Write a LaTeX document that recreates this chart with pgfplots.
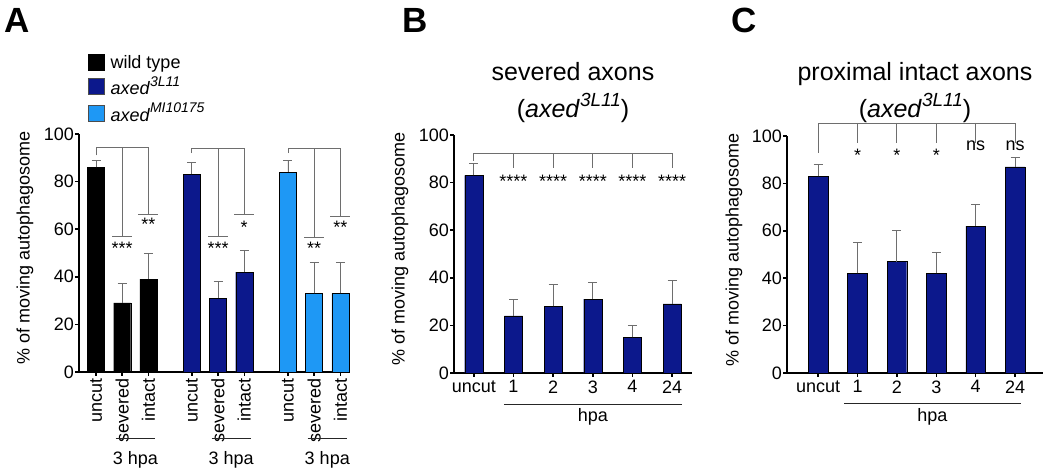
\documentclass[border=0pt]{standalone}
\usepackage{pgfplots}
\pgfplotsset{compat=1.18}
\usepackage{fontspec}
\setmainfont{Liberation Sans}
\definecolor{dblue}{RGB}{12,24,140}
\definecolor{lblue}{RGB}{30,152,245}
\definecolor{brkc}{RGB}{110,110,110}
\newcommand\supx[3]{\raisebox{#1}{\fontsize{#2}{#2}\selectfont\itshape #3}}
\pgfplotsset{
 panel/.style={
   scale only axis, clip=false,
   axis x line*=bottom, axis y line*=left,
   axis line style={line width=1.5pt},
   ymin=0, ymax=100, ytick={0,20,...,100},
   tick style={line width=1.5pt, black},
   major tick length=4pt, tick align=outside,
   /pgf/number format/assume math mode=true,
   tick label style={font=\fontsize{18}{20}\selectfont},
   yticklabel style={inner sep=1pt},
   ylabel={\% of moving autophagosome},
 },
 ylab/.style={every axis y label/.style={at={(axis description cs:#1,0.52)}, rotate=90, anchor=center, font=\fontsize{18}{20}\selectfont}},
 bars/.style={ybar, bar shift=0pt, draw=black, line width=0.4pt,
   error bars/y dir=plus, error bars/y explicit,
   error bars/error bar style={brkc, line width=0.9pt},
   error bars/error mark options={rotate=90, mark size=4.5pt, brkc, line width=0.9pt}},
 brk/.style={brkc, line width=0.9pt, sharp plot, no marks, forget plot},
}
\begin{document}
\begin{tikzpicture}
\useasboundingbox (0,0) rectangle (1050pt,474pt);
% ---------------- Panel A
\begin{axis}[panel, at={(79pt,102pt)}, anchor=south west, width=270pt, height=238pt,
  xmin=-0.65, xmax=9.66,
  xtick={0,1,2,3.66,4.66,5.66,7.33,8.33,9.33},
  xticklabels={uncut,severed,intact,uncut,severed,intact,uncut,severed,intact},
  xticklabel style={rotate=90, anchor=east, inner sep=2pt},
  ylab=-0.2,
  legend style={draw=none, fill=none, at={(0.033,1.34)}, anchor=north west,
     font=\fontsize{18}{20}\selectfont, row sep=3pt, column sep=4pt, inner sep=0pt,
     nodes={inner sep=2pt}},
  legend cell align=left,
]
\addlegendimage{legend image code/.code={\draw[fill=black, draw=black] (0pt,-8pt) rectangle (16pt,8pt);}}
\addlegendentry{wild type}
\addlegendimage{legend image code/.code={\draw[fill=dblue, draw=black!70] (0pt,-8pt) rectangle (16pt,8pt);}}
\addlegendentry{\textit{axed}\supx{0.45em}{14}{3L11}}
\addlegendimage{legend image code/.code={\draw[fill=lblue, draw=black!70] (0pt,-8pt) rectangle (16pt,8pt);}}
\addlegendentry{\textit{axed}\supx{0.45em}{14}{MI10175}}
\addplot[bars, fill=black, bar width=0.65, forget plot] coordinates {(0,86) +- (0,3) (1,29) +- (0,8) (2,39) +- (0,11)};
\addplot[bars, fill=dblue, bar width=0.65, forget plot] coordinates {(3.66,83) +- (0,5) (4.66,31) +- (0,7) (5.66,42) +- (0,9)};
\addplot[bars, fill=lblue, bar width=0.65, forget plot] coordinates {(7.33,84) +- (0,5) (8.33,33) +- (0,13) (9.33,33) +- (0,13)};
% brackets group 1
\addplot[brk] coordinates {(0,91) (0,94.5) (2,94.5) (2,66)};
\addplot[brk] coordinates {(1,94.5) (1,57)};
\addplot[brk] coordinates {(0.62,57) (1.38,57)};
\addplot[brk] coordinates {(1.62,66) (2.38,66)};
% group 2
\addplot[brk] coordinates {(3.66,92) (3.66,94) (5.66,94) (5.66,66)};
\addplot[brk] coordinates {(4.66,94) (4.66,57)};
\addplot[brk] coordinates {(4.28,57) (5.04,57)};
\addplot[brk] coordinates {(5.28,66) (6.04,66)};
% group 3
\addplot[brk] coordinates {(7.33,92) (7.33,94) (9.33,94) (9.33,65.5)};
\addplot[brk] coordinates {(8.33,94) (8.33,56.5)};
\addplot[brk] coordinates {(7.95,56.5) (8.71,56.5)};
\addplot[brk] coordinates {(8.95,65.5) (9.71,65.5)};
\begin{scope}[every node/.style={font=\fontsize{18}{20}\selectfont}]
\node at (axis cs:1,52) {***};
\node at (axis cs:2,62) {**};
\node at (axis cs:4.66,52) {***};
\node at (axis cs:5.66,61) {*};
\node at (axis cs:8.33,52) {**};
\node at (axis cs:9.33,61) {**};
\node at (axis cs:1.5,-37) {3 hpa};
\node at (axis cs:5.16,-37) {3 hpa};
\node at (axis cs:8.83,-37) {3 hpa};
\end{scope}
\addplot[brk, black!85] coordinates {(0.75,-28) (2.25,-28)};
\addplot[brk, black!85] coordinates {(4.41,-28) (5.91,-28)};
\addplot[brk, black!85] coordinates {(8.08,-28) (9.58,-28)};
\end{axis}
% ---------------- Panel B
\begin{axis}[panel, at={(454pt,101pt)}, anchor=south west, width=238pt, height=238pt,
  xmin=-0.5, xmax=5.5, xtick={0,1,2,3,4,5}, xticklabels={uncut,1,2,3,4,24},
  ylab=-0.227,
  title={severed axons\\(\textit{axed}\supx{0.45em}{19}{3L11})},
  title style={align=center, font=\fontsize{25}{37}\selectfont, at={(axis description cs:0.5,1)}, anchor=south, yshift=3pt},
]
\addplot[bars, fill=dblue, bar width=0.46] coordinates {(0,83) +- (0,5) (1,24) +- (0,7) (2,28) +- (0,9) (3,31) +- (0,7) (4,15) +- (0,5) (5,29) +- (0,10)};
\addplot[brk] coordinates {(0,89) (0,92.4) (5,92.4) (5,86)};
\addplot[brk] coordinates {(1,92.4) (1,86)};
\addplot[brk] coordinates {(2,92.4) (2,86)};
\addplot[brk] coordinates {(3,92.4) (3,86)};
\addplot[brk] coordinates {(4,92.4) (4,86)};
\begin{scope}[every node/.style={font=\fontsize{18}{20}\selectfont}]
\node at (axis cs:1,80.5) {****};
\node at (axis cs:2,80.5) {****};
\node at (axis cs:3,80.5) {****};
\node at (axis cs:4,80.5) {****};
\node at (axis cs:5,80.5) {****};
\node at (axis cs:3.0,-18.5) {hpa};
\end{scope}
\addplot[brk, black!85] coordinates {(0.76,-13.4) (5.25,-13.4)};
\end{axis}
% ---------------- Panel C
\begin{axis}[panel, at={(787pt,101pt)}, anchor=south west, width=256pt, height=237pt,
  xmin=-0.79, xmax=5.71, xtick={0,1,2,3,4,5}, xticklabels={uncut,1,2,3,4,24},
  ylab=-0.207,
  title={proximal intact axons\\(\textit{axed}\supx{0.45em}{19}{3L11})},
  title style={align=center, font=\fontsize{25}{37}\selectfont, at={(axis description cs:0.5,1)}, anchor=south, yshift=4pt},
]
\addplot[bars, fill=dblue, bar width=0.5] coordinates {(0,83) +- (0,5) (1,42) +- (0,13) (2,47) +- (0,13) (3,42) +- (0,9) (4,62) +- (0,9) (5,87) +- (0,4)};
\addplot[brk] coordinates {(0,93) (0,105.5) (5,105.5) (5,97)};
\addplot[brk] coordinates {(1,105.5) (1,97)};
\addplot[brk] coordinates {(2,105.5) (2,97)};
\addplot[brk] coordinates {(3,105.5) (3,97)};
\addplot[brk] coordinates {(4,105.5) (4,97)};
\begin{scope}[every node/.style={font=\fontsize{18}{20}\selectfont}]
\node at (axis cs:1,92) {*};
\node at (axis cs:2,92) {*};
\node at (axis cs:3,92) {*};
\node at (axis cs:4,96) {ns};
\node at (axis cs:5,96) {ns};
\node at (axis cs:2.9,-18.6) {hpa};
\end{scope}
\addplot[brk, black!85] coordinates {(0.66,-13) (5.15,-13)};
\end{axis}
% panel letters
\node[anchor=base west, font=\fontsize{35}{35}\selectfont\bfseries, inner sep=0pt] at (4pt,441pt) {A};
\node[anchor=base west, font=\fontsize{35}{35}\selectfont\bfseries, inner sep=0pt] at (402pt,441pt) {B};
\node[anchor=base west, font=\fontsize{35}{35}\selectfont\bfseries, inner sep=0pt] at (731pt,441pt) {C};
\end{tikzpicture}
\end{document}
